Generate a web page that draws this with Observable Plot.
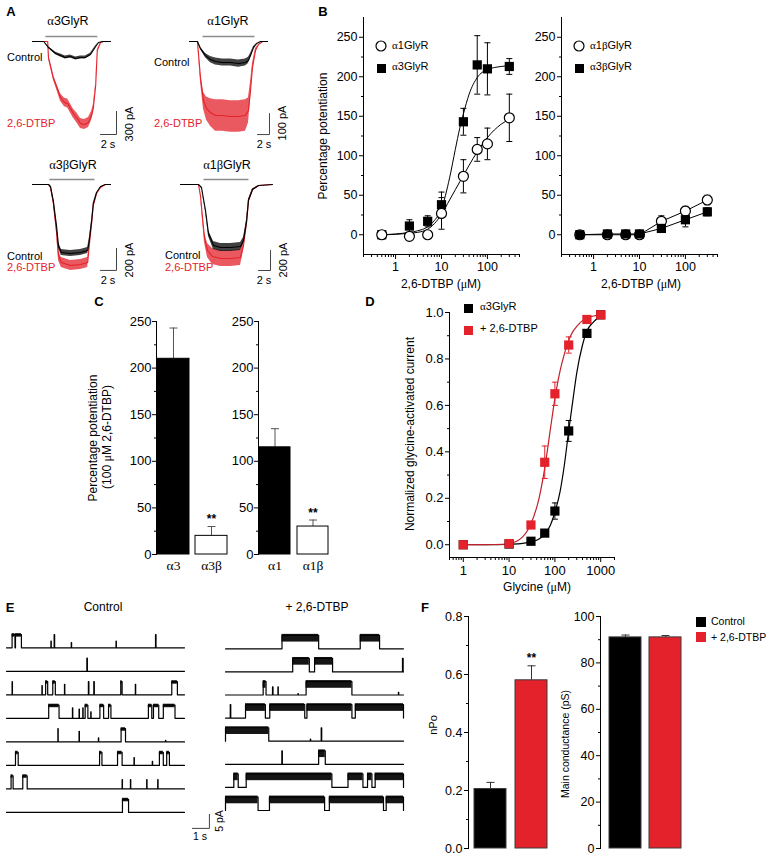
<!DOCTYPE html>
<html><head><meta charset="utf-8">
<script src="https://cdn.jsdelivr.net/npm/d3@7"></script>
<script src="https://cdn.jsdelivr.net/npm/@observablehq/plot@0.6"></script>
<style>
body{margin:0;background:#fff;}
#fig{position:relative;width:768px;height:858px;overflow:hidden;font-family:"Liberation Sans",Arial,Helvetica,sans-serif;color:#000;background:#fff;}
.lbl{position:absolute;white-space:nowrap;line-height:1;}
.g{font-family:"Liberation Serif","DejaVu Serif",serif;}
</style></head><body><div id="fig"></div>
<script>
// ================= DATA =================
// Panel A: whole-cell current traces (time s, current pA, noise half-width pA)
const a3CtrlTime = [0,1.4,2,2.9,3.5,4.1,4.75,5.4,6,6.6,7.25,7.9,8.25,8.75,9.75];
const a3Ctrl     = [0,0,-78,-156,-182,-208,-195,-221,-208,-208,-169,-65,-13,0,0];
const a3CtrlNoise= [0,0,10,15,20,20,20,20,20,20,15,10,0,0,0];
const a3DtbpTime = [0,1.9,2,2.6,3.1,3.5,4,4.4,5.1,5.6,6,6.5,7,7.4,7.6,7.9,8,8.1,8.5,8.9,9.75];
const a3Dtbp     = [0,0,-208,-468,-611,-728,-793,-806,-936,-1001,-1066,-1079,-1053,-962,-871,-572,-338,-117,-13,0,0];
const a3DtbpNoise= [0,0,20,30,40,50,55,60,60,65,65,65,65,60,50,30,20,10,0,0,0];

const a1CtrlTime = [0,1.33,1.83,2.67,3.5,4.33,5.5,6.83,8.17,9.33,9.83,10.17,10.67,11.17,11.83,13];
const a1Ctrl     = [0,0,-33,-67,-86,-95,-100,-100,-105,-100,-90,-67,-29,-10,0,0];
const a1CtrlNoise= [0,0,5,10,15,17,17,17,17,17,15,10,5,0,0,0];
const a1DtbpTime = [0,1.33,1.83,2.33,2.83,3.5,4.33,5.5,6.83,8.17,9.33,9.83,10.17,10.5,11,11.5,12.17,13];
const a1Dtbp     = [0,0,-171,-281,-319,-338,-352,-352,-357,-357,-352,-328,-233,-124,-43,-14,0,0];
const a1DtbpNoise= [0,0,20,40,55,65,75,75,75,75,75,60,40,20,10,0,0,0];

const a3bTime    = [0,2,2.25,2.6,3,3.25,3.6,4.75,6,6.9,7.1,7.4,7.6,8,8.5,9.1,9.75];
const a3bCtrl    = [0,0,-18,-146,-373,-555,-619,-628,-619,-601,-510,-328,-173,-73,-18,0,0];
const a3bCtrlNoise=[0,0,5,10,20,27,27,27,27,27,20,10,5,0,0,0,0];
const a3bDtbp    = [0,0,-27,-164,-419,-646,-710,-737,-728,-710,-555,-346,-191,-82,-27,0,0];
const a3bDtbpNoise=[0,0,5,10,25,45,45,45,45,45,30,15,5,0,0,0,0];

const a1bCtrlTime= [0,3,3.5,4.17,4.67,5.5,6.67,8.33,10,10.5,11,11.33,12,13,15.33];
const a1bCtrl    = [0,0,-30,-260,-490,-610,-630,-630,-620,-560,-380,-160,-50,-10,0];
const a1bCtrlNoise=[0,0,5,15,30,40,40,40,40,30,20,10,5,0,0];
const a1bDtbpTime= [0,3,3.33,3.67,4,4.5,5.33,6.67,8.33,10,10.5,11,11.33,12,13,15.33];
const a1bDtbp    = [0,0,-110,-330,-530,-660,-720,-740,-740,-730,-610,-380,-160,-50,-10,0];
const a1bDtbpNoise=[0,0,10,30,50,70,80,80,80,80,50,25,10,5,0,0];

// drug application bars (s)
const a3Bar = [1.6, 8.1], a1Bar = [2.17, 10.83], a3bBar = [2.1, 7.75], a1bBar = [3.83, 11.33];

// Panel B: concentration-response (µM, % potentiation)
const bConc   = [0.5, 2, 5, 10, 30, 60, 100, 300];
const bA1     = [0, -2, 0, 27, 74, 108, 115, 148];
const bA1Err  = [0, 3, 0, 20, 21, 15, 20, 30];
const bA3     = [0, 11, 17, 38, 143, 215, 210, 213];
const bA3Err  = [0, 8, 7, 16, 17, 37, 33, 10];
const bFitConc= [0.5, 1, 2, 3, 5, 7, 10, 15, 20, 25, 30, 40, 60, 100, 200, 300];
const bFitA1  = [0, 0.5, 2, 3, 7, 14, 26, 44, 57, 67, 75, 88, 105, 123, 140, 146];
const bFitA3  = [0, 1, 3, 5, 10, 18, 33, 72, 108, 135, 153, 178, 199, 209, 213, 214];
const bConc2  = [0.5, 2, 5, 10, 30, 100, 300];
const bA1b    = [0, 0, 0, 0, 17, 30, 44];
const bA1bErr = [0, 0, 0, 0, 7, 6, 6];
const bA3b    = [0, 1, 1, 1, 8, 19, 29];
const bA3bErr = [0, 1, 1, 1, 5, 9, 5];

// Panel C: potentiation by 100 µM 2,6-DTBP
const cGroupsL = ["α3", "α3β"], cValsL = [210, 20], cErrL = [33, 10], cSigL = ["", "**"];
const cGroupsR = ["α1", "α1β"], cValsR = [115, 30], cErrR = [20, 7], cSigR = ["", "**"];

// Panel D: glycine concentration-response
const dConc    = [1, 10, 30, 60, 100, 200, 500, 1000];
const dCtrl    = [0, 0.003, 0.015, 0.05, 0.145, 0.49, 0.91, 0.99];
const dCtrlErr = [0, 0, 0.005, 0.01, 0.035, 0.045, 0.01, 0.01];
const dDtbp    = [0, 0.005, 0.085, 0.355, 0.65, 0.86, 0.97, 0.99];
const dDtbpErr = [0, 0, 0.015, 0.07, 0.05, 0.035, 0.01, 0.01];
const dFitConc = [1, 5, 10, 20, 30, 45, 60, 80, 100, 130, 160, 200, 250, 300, 400, 500, 700, 1000];
const dFitCtrl = [0, 0, 0.002, 0.006, 0.012, 0.025, 0.045, 0.085, 0.14, 0.23, 0.34, 0.49, 0.63, 0.74, 0.86, 0.92, 0.96, 0.985];
const dFitDtbp = [0, 0.001, 0.005, 0.035, 0.09, 0.2, 0.33, 0.5, 0.63, 0.75, 0.82, 0.88, 0.92, 0.94, 0.965, 0.975, 0.985, 0.99];

// Panel E: single-channel openings per sweep [start s, end s, relative amplitude]
const eCtrlRows = [
  [[0.33,0.50,1],[0.53,0.88,1],[2.62,2.64,0.5],[2.81,2.84,1],[3.82,3.84,0.4],[6.46,6.48,0.5],[8.79,8.82,1]],
  [[4.74,4.77,1]],
  [[0.33,0.35,1],[2.09,2.11,0.7],[2.31,2.43,1],[2.73,2.88,1],[3.42,3.44,0.8],[4.83,4.86,1],[5.15,5.18,1],[6.74,6.82,1],[7.60,7.62,0.8],[9.75,10.08,1]],
  [[2.49,3.10,1],[3.89,3.91,0.8],[4.28,4.30,0.7],[4.50,4.52,0.8],[4.64,4.80,1],[4.97,4.99,0.5],[5.51,5.73,1],[6.02,6.16,1],[8.37,8.57,1],[8.67,8.98,1],[9.25,9.94,1]],
  [[3.03,3.05,1],[4.28,4.30,0.8],[5.42,5.44,0.3],[6.76,7.02,1],[9.38,9.40,0.12]],
  [[0.53,0.69,1],[5.49,5.63,1],[6.55,6.82,1],[7.52,7.54,0.6],[8.60,8.62,0.3],[9.02,9.25,1],[9.45,9.61,1]],
  [[0.27,0.39,1],[0.96,1.22,1],[6.82,6.84,0.7],[7.31,7.33,0.7],[8.27,8.29,0.7],[8.92,8.94,0.7]],
  [[6.84,7.20,1]]
];
const eDtbpRows = [
  [[3.33,5.49,1],[7.94,9.08,1]],
  [[3.96,4.94,1],[5.25,6.31,1],[10.43,10.47,1]],
  [[2.22,2.39,1],[2.77,2.80,0.6],[3.09,3.11,0.6],[4.27,4.29,0.1],[4.75,7.45,1],[10.19,10.21,0.2]],
  [[0.28,0.31,1],[1.18,2.35,1],[2.61,4.67,1],[4.80,7.45,1],[7.65,10.49,1]],
  [[0,2.55,1],[5.0,5.02,0.15],[5.64,5.67,1]],
  [[3.32,3.35,1],[5.49,5.88,1]],
  [[0.49,0.75,1],[1.22,6.27,1],[7.22,8.10,1],[8.37,8.63,1],[8.82,10.49,1]],
  [[0,1.92,1],[2.59,5.84,1],[6.12,9.31,1],[9.47,10.49,1]]
];

// Panel F: nPo and main conductance
const fGroups = ["Control", "+ 2,6-DTBP"];
const fNpo = [0.205, 0.58], fNpoErr = [0.023, 0.05], fNpoSig = ["", "**"];
const fCond = [91, 91], fCondErr = [1, 0.8];

// ================= RENDER =================
const RED = "#e3222b";
const FONT = "'Liberation Sans', Arial, Helvetica, sans-serif";
const style = {fontFamily: FONT, fontSize: "12px", color: "black", background: "transparent", overflow: "visible"};
const fig = document.getElementById("fig");
function place(svg, left, top){ svg.style.position = "absolute"; svg.style.left = left + "px"; svg.style.top = top + "px"; fig.appendChild(svg); }
function label(html, x, y, o = {}){
  const d = document.createElement("div"); d.className = "lbl"; d.innerHTML = html;
  d.style.left = x + "px"; d.style.top = y + "px"; d.style.fontSize = (o.size || 12) + "px";
  if (o.bold) d.style.fontWeight = "bold"; if (o.color) d.style.color = o.color;
  const ax = o.anchor === "start" ? "0%" : o.anchor === "end" ? "-100%" : "-50%";
  d.style.transform = `translate(${ax},-50%)` + (o.rotate ? ` rotate(${o.rotate}deg)` : "");
  fig.appendChild(d);
}
function swatch(x, y, kind, color, s){
  const d = document.createElement("div"); d.className = "lbl";
  d.style.left = (x - s/2 - 1) + "px"; d.style.top = (y - s/2 - 1) + "px";
  const shape = kind === "circle"
    ? `<circle cx="${s/2+1}" cy="${s/2+1}" r="${s/2}" fill="white" stroke="black" stroke-width="1.2"/>`
    : `<rect x="1" y="1" width="${s}" height="${s}" fill="${color}"/>`;
  d.innerHTML = `<svg width="${s+2}" height="${s+2}">${shape}</svg>`;
  fig.appendChild(d);
}
const cap = w => ({draw(ctx){ ctx.moveTo(-w, 0); ctx.lineTo(w, 0); }});
const zipT = (t, i, n) => t.map((tt, k) => ({t: tt, i: i[k], n: n[k]}));
const zipV = (c, v, e) => c.map((cc, k) => ({c: cc, v: v[k], e: e ? e[k] : 0}));
function minorLog(lo, hi){ const out = []; for (let p = -1; p <= 3; p++) for (let m = 2; m <= 9; m++){ const v = m * 10 ** p; if (v >= lo - 1e-9 && v <= hi + 1e-9) out.push(+v.toPrecision(3)); } return out; }

// ---- A ----
function tracePanel(o){
  const c = zipT(o.ct, o.ci, o.cn), r = zipT(o.dt, o.di, o.dn);
  const [t1, ib, amp] = o.sb;
  return Plot.plot({
    width: 150, height: 150, margin: 0, style,
    x: {domain: o.xd, range: o.xr, axis: null},
    y: {domain: o.yd, range: o.yr, axis: null},
    marks: [
      Plot.link([o.bar], {x1: d => d[0], x2: d => d[1], y1: () => 0, y2: () => 0, dy: -5, stroke: "#8c8c8c", strokeWidth: 1.5}),
      Plot.areaY(r, {x: "t", y1: d => d.i - d.n, y2: d => d.i + d.n, fill: RED, fillOpacity: 0.75}),
      Plot.line(r, {x: "t", y: "i", stroke: RED, strokeWidth: 1.1}),
      Plot.areaY(c, {x: "t", y1: d => d.i - d.n, y2: d => d.i + d.n, fill: "#111", fillOpacity: 0.8}),
      Plot.line(c, {x: "t", y: "i", stroke: "black", strokeWidth: 1.1}),
      Plot.line([{t: t1 - 2, i: ib}, {t: t1, i: ib}, {t: t1, i: ib + amp}], {x: "t", y: "i", stroke: "#444", strokeWidth: 1})
    ]
  });
}
place(tracePanel({ct: a3CtrlTime, ci: a3Ctrl, cn: a3CtrlNoise, dt: a3DtbpTime, di: a3Dtbp, dn: a3DtbpNoise,
  xd: [0, 9.75], xr: [32, 110], yd: [0, -1300], yr: [41, 141], bar: a3Bar, sb: [10.5, -1209, 300]}), 0, 0);
place(tracePanel({ct: a1CtrlTime, ci: a1Ctrl, cn: a1CtrlNoise, dt: a1DtbpTime, di: a1Dtbp, dn: a1DtbpNoise,
  xd: [0, 13], xr: [39, 117], yd: [0, -476], yr: [41, 141], bar: a1Bar, sb: [13.33, -443, 100]}), 150, 0);
place(tracePanel({ct: a3bTime, ci: a3bCtrl, cn: a3bCtrlNoise, dt: a3bTime, di: a3bDtbp, dn: a3bDtbpNoise,
  xd: [0, 9.75], xr: [32, 110], yd: [0, -910], yr: [34, 134], bar: a3bBar, sb: [10.5, -782, 200]}), 0, 150);
place(tracePanel({ct: a1bCtrlTime, ci: a1bCtrl, cn: a1bCtrlNoise, dt: a1bDtbpTime, di: a1bDtbp, dn: a1bDtbpNoise,
  xd: [0, 15.33], xr: [30, 122], yd: [0, -1000], yr: [34, 134], bar: a1bBar, sb: [15, -860, 200]}), 150, 150);

// ---- B ----
function errMarks(data, color){
  const d = data.filter(x => x.e > 0);
  return [
    Plot.ruleX(d, {x: "c", y1: x => x.v - x.e, y2: x => x.v + x.e, stroke: color, strokeWidth: 1}),
    Plot.dot(d, {x: "c", y: x => x.v + x.e, symbol: cap(3), fill: "none", stroke: color, strokeWidth: 1}),
    Plot.dot(d, {x: "c", y: x => x.v - x.e, symbol: cap(3), fill: "none", stroke: color, strokeWidth: 1})
  ];
}
function bPlot(circ, sq, fitC, fitS, curve, circOnTop){
  const circles = Plot.dot(circ, {x: "c", y: "v", r: 5, fill: "white", stroke: "black", strokeWidth: 1.2});
  const squares = Plot.dot(sq, {x: "c", y: "v", r: 5.2, symbol: "square", fill: "black"});
  return Plot.plot({
    width: 230, height: 300, marginLeft: 63, marginRight: 11, marginTop: 17, marginBottom: 46, style,
    x: {type: "log", domain: [0.2, 500]},
    y: {domain: [-25, 275]},
    marks: [
      Plot.ruleX([0.2], {strokeWidth: 1}), Plot.ruleY([-25], {strokeWidth: 1}),
      Plot.axisY({ticks: [0, 50, 100, 150, 200, 250], tickSize: 4, tickPadding: 2, fontSize: 12.5, label: null}),
      Plot.axisY({ticks: [25, 75, 125, 175, 225], tickSize: 2, tickFormat: () => "", label: null}),
      Plot.axisX({ticks: [1, 10, 100], tickSize: 5, tickPadding: 3, fontSize: 12.5, tickFormat: d => String(d), label: null}),
      Plot.axisX({ticks: minorLog(0.2, 500), tickSize: 3, tickFormat: () => "", label: null}),
      Plot.line(fitS, {x: "c", y: "v", curve, stroke: "black", strokeWidth: 1}),
      Plot.line(fitC, {x: "c", y: "v", curve, stroke: "black", strokeWidth: 1}),
      ...errMarks(sq, "black"), ...errMarks(circ, "black"),
      ...(circOnTop ? [squares, circles] : [circles, squares])
    ]
  });
}
const bCircL = zipV(bConc, bA1, bA1Err), bSqL = zipV(bConc, bA3, bA3Err);
place(bPlot(bCircL, bSqL, zipV(bFitConc, bFitA1), zipV(bFitConc, bFitA3), "monotone-x", true), 300, 0);
const bCircR = zipV(bConc2, bA1b, bA1bErr), bSqR = zipV(bConc2, bA3b, bA3bErr);
place(bPlot(bCircR, bSqR, bCircR, bSqR, "linear", false), 498, 0);

// ---- C ----
function cPlot(groups, vals, errs, sig, mLeft, pIn, pOut){
  const data = groups.map((g, k) => ({g, v: vals[k], e: errs[k], s: sig[k], k}));
  return Plot.plot({
    width: 140, height: 280, marginLeft: mLeft, marginRight: 140 - mLeft - 72, marginTop: 21, marginBottom: 26, style,
    x: {domain: groups, paddingInner: pIn, paddingOuter: pOut},
    y: {domain: [0, 250]},
    marks: [
      Plot.frame({anchor: "left", strokeWidth: 1}),
      Plot.axisY({ticks: [0, 50, 100, 150, 200, 250], tickSize: 4, tickPadding: 1, fontSize: 13, label: null}),
      Plot.axisY({ticks: [25, 75, 125, 175, 225], tickSize: 2, tickFormat: () => "", label: null}),
      Plot.axisX({tickSize: 0, tickPadding: 6, fontSize: 13.5, fontFamily: "Liberation Serif, serif", label: null}),
      Plot.ruleX(data, {x: "g", y1: "v", y2: d => d.v + d.e, stroke: "#555", strokeWidth: 1}),
      Plot.dot(data, {x: "g", y: d => d.v + d.e, symbol: cap(4), fill: "none", stroke: "#555", strokeWidth: 1}),
      Plot.barY(data, {x: "g", y: "v", fill: d => d.k === 0 ? "black" : "white", stroke: "black", strokeWidth: 1}),
      Plot.text(data, {x: "g", y: d => d.v + d.e, text: "s", dy: -7, fontSize: 12, fontWeight: "bold"})
    ]
  });
}
place(cPlot(cGroupsL, cValsL, cErrL, cSigL, 56, 0.16, 0.015), 100, 300);
place(cPlot(cGroupsR, cValsR, cErrR, cSigR, 58, 0.18, 0.025), 200, 300);

// ---- D ----
const dC = zipV(dConc, dCtrl, dCtrlErr), dD = zipV(dConc, dDtbp, dDtbpErr);
place(Plot.plot({
  width: 250, height: 310, marginLeft: 69, marginRight: 16, marginTop: 17, marginBottom: 48, style,
  x: {type: "log", domain: [0.5, 2000]},
  y: {domain: [-0.055, 1.0]},
  marks: [
    Plot.ruleX([0.5], {strokeWidth: 1}), Plot.ruleY([-0.055], {strokeWidth: 1}),
    Plot.axisY({ticks: [0, 0.2, 0.4, 0.6, 0.8, 1.0], tickSize: 4, tickPadding: 2, fontSize: 13, tickFormat: d => d.toFixed(1), label: null}),
    Plot.axisY({ticks: [0.1, 0.3, 0.5, 0.7, 0.9], tickSize: 2, tickFormat: () => "", label: null}),
    Plot.axisX({ticks: [1, 10, 100, 1000], tickSize: 5, tickPadding: 3, fontSize: 13, tickFormat: d => String(d), label: null}),
    Plot.axisX({ticks: minorLog(0.5, 2000), tickSize: 3, tickFormat: () => "", label: null}),
    Plot.line(zipV(dFitConc, dFitCtrl), {x: "c", y: "v", curve: "monotone-x", stroke: "black", strokeWidth: 1.2}),
    Plot.line(zipV(dFitConc, dFitDtbp), {x: "c", y: "v", curve: "monotone-x", stroke: "#c0202a", strokeWidth: 1.2}),
    ...errMarks(dC, "black"), ...errMarks(dD, RED),
    Plot.dot(dC, {x: "c", y: "v", r: 5.2, symbol: "square", fill: "black"}),
    Plot.dot(dD, {x: "c", y: "v", r: 5.2, symbol: "square", fill: RED})
  ]
}), 380, 295);

// ---- E ----
function channelPanel(rowsData, o){
  const pts = [], bands = [];
  rowsData.forEach((evs, r) => {
    const off = -r * o.sp;
    pts.push({t: 0, v: off, r});
    for (const [t0, t1, a] of evs){
      const lv = off + a * o.amp;
      pts.push({t: t0, v: off, r}, {t: t0, v: lv, r}, {t: t1, v: lv, r}, {t: t1, v: off, r});
      if (t1 - t0 > 0.08) bands.push({t0, t1, lo: lv - o.noise, hi: lv + 0.35});
    }
    pts.push({t: o.T, v: off, r});
  });
  const marks = [
    Plot.rect(bands, {x1: "t0", x2: "t1", y1: "lo", y2: "hi", fill: "#151515"}),
    Plot.line(pts, {x: "t", y: "v", z: "r", stroke: "black", strokeWidth: 1.2})
  ];
  if (o.scaleBar){ const [t0, i0] = o.scaleBar;
    marks.push(Plot.line([{t: t0, v: i0}, {t: t0 + 1, v: i0}, {t: t0 + 1, v: i0 + 5}], {x: "t", y: "v", stroke: "#444", strokeWidth: 1})); }
  return Plot.plot({width: o.w, height: 215, margin: 0, style,
    x: {domain: [0, o.T], range: o.xr, axis: null},
    y: {domain: [0, -10], range: [o.y0, o.y0 + 28], axis: null}, marks});
}
place(channelPanel(eCtrlRows, {T: 10.5, xr: [6, 184], y0: 17.3, sp: 8.4, amp: 4.7, noise: 0.9, w: 215, scaleBar: [10.97, -64.5]}), 0, 630);
place(channelPanel(eDtbpRows, {T: 10.49, xr: [10, 188], y0: 18.3, sp: 8.25, amp: 4.8, noise: 2.4, w: 200}), 215, 630);

// ---- F ----
function fPlot(vals, errs, sig, yd, ticks, minor, fmt, mLeft, pIn, pOut, span){
  const data = fGroups.map((g, k) => ({g, v: vals[k], e: errs[k], s: sig ? sig[k] : "", k}));
  return Plot.plot({
    width: 140, height: 258, marginLeft: mLeft, marginRight: 140 - mLeft - span, marginTop: 16, marginBottom: 10, style,
    x: {domain: fGroups, paddingInner: pIn, paddingOuter: pOut, axis: null},
    y: {domain: yd},
    marks: [
      Plot.frame({anchor: "left", strokeWidth: 1}),
      Plot.axisY({ticks, tickSize: 4, tickPadding: 2, fontSize: 12.5, tickFormat: fmt, label: null}),
      Plot.axisY({ticks: minor, tickSize: 2, tickFormat: () => "", label: null}),
      Plot.ruleX(data, {x: "g", y1: "v", y2: d => d.v + d.e, stroke: "#333", strokeWidth: 1}),
      Plot.dot(data, {x: "g", y: d => d.v + d.e, symbol: cap(4), fill: "none", stroke: "#333", strokeWidth: 1}),
      Plot.barY(data, {x: "g", y: "v", fill: d => d.k === 0 ? "black" : RED, stroke: "#3a3a3a", strokeWidth: 1}),
      Plot.text(data, {x: "g", y: d => d.v + d.e, text: "s", dy: -8, fontSize: 12, fontWeight: "bold"})
    ]
  });
}
place(fPlot(fNpo, fNpoErr, fNpoSig, [0, 0.8], [0, 0.2, 0.4, 0.6, 0.8], [0.1, 0.3, 0.5, 0.7], d => d.toFixed(1), 48, 0.22, 0.146, 85), 420, 600);
place(fPlot(fCond, fCondErr, null, [0, 100], [0, 20, 40, 60, 80, 100], [10, 30, 50, 70, 90], d => String(d), 40, 0.2, 0.225, 90), 560, 600);

// ================= TEXT =================
const L = {size: 13, bold: true};
label("A", 11, 11, L); label("B", 323, 11, L); label("C", 99, 301, L);
label("D", 370, 301, L); label("E", 10, 607, L); label("F", 425, 607, L);
label('<span class="g">α</span>3GlyR', 68, 21, {size: 12.5});
label('<span class="g">α</span>1GlyR', 228, 21, {size: 12.5});
label('<span class="g">α</span>3<span class="g">β</span>GlyR', 73, 165, {size: 12.5});
label('<span class="g">α</span>1<span class="g">β</span>GlyR', 227, 165, {size: 12.5});
const S = {size: 11, anchor: "start"}, SR = {size: 11, anchor: "start", color: RED};
label("Control", 7, 57, S); label("2,6-DTBP", 7, 123, SR);
label("Control", 154, 62, S); label("2,6-DTBP", 154, 123, SR);
label("Control", 7, 256, S); label("2,6-DTBP", 7, 267, SR);
label("Control", 165, 255, S); label("2,6-DTBP", 165, 267, SR);
label("2 s", 108, 144, {size: 11}); label("300 pA", 129, 124, {size: 11, rotate: -90});
label("2 s", 264, 144, {size: 11}); label("100 pA", 282, 123, {size: 11, rotate: -90});
label("2 s", 108, 280, {size: 11}); label("200 pA", 129, 260, {size: 11, rotate: -90});
label("2 s", 264, 280, {size: 11}); label("200 pA", 283, 260, {size: 11, rotate: -90});
// B
label("Percentage potentiation", 323, 136, {size: 12, rotate: -90});
label('2,6-DTBP (<span class="g">μ</span>M)', 441, 284, {size: 12});
label('2,6-DTBP (<span class="g">μ</span>M)', 641, 284, {size: 12});
swatch(381, 45, "circle", "white", 10); label('<span class="g">α</span>1GlyR', 392, 45, S);
swatch(381, 66, "square", "black", 9); label('<span class="g">α</span>3GlyR', 392, 66, S);
swatch(579, 45, "circle", "white", 10); label('<span class="g">α</span>1<span class="g">β</span>GlyR', 590, 45, S);
swatch(579, 66, "square", "black", 9); label('<span class="g">α</span>3<span class="g">β</span>GlyR', 590, 66, S);
// C
label("Percentage potentiation", 93, 438, {size: 12, rotate: -90});
label('(100 <span class="g">μ</span>M 2,6-DTBP)', 107, 437, {size: 12, rotate: -90});
// D
swatch(468, 306, "square", "black", 9); label('<span class="g">α</span>3GlyR', 480, 306, S);
swatch(468, 328, "square", RED, 9); label("+ 2,6-DTBP", 480, 328, S);
label("Normalized glycine-activated current", 410, 434, {size: 12, rotate: -90});
label('Glycine (<span class="g">μ</span>M)', 537, 587, {size: 12});
// E
label("Control", 103, 607, {size: 12}); label("+ 2,6-DTBP", 317, 607, {size: 12});
label("1 s", 200, 836, {size: 10.5}); label("5 pA", 219, 821, {size: 10.5, rotate: -90});
// F
label("nPo", 433, 725, {size: 11, rotate: -90});
label("Main conductance (pS)", 565, 744, {size: 10.5, rotate: -90});
swatch(701, 621, "square", "black", 10); label("Control", 711, 621, {size: 10.5, anchor: "start"});
swatch(701, 636, "square", RED, 10); label("+ 2,6-DTBP", 711, 637, {size: 10.5, anchor: "start"});
</script></body></html>
